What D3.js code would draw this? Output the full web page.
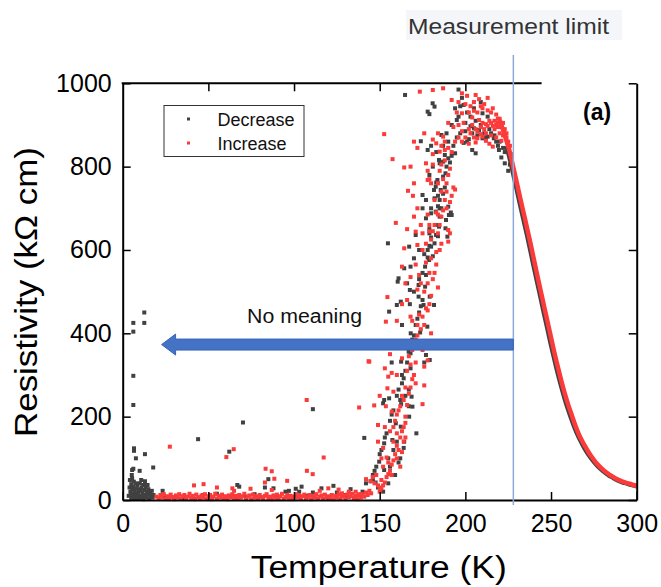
<!DOCTYPE html>
<html>
<head>
<meta charset="utf-8">
<script src="https://cdn.jsdelivr.net/npm/d3@7"></script>
<style>
  html, body { margin: 0; padding: 0; background: #fff; }
  svg { display: block; font-family: "Liberation Sans", Arial, sans-serif; }
</style>
</head>
<body>
<svg id="chart" width="661" height="587"></svg>
<script>
// axis ticks
const xTicks = [0, 50, 100, 150, 200, 250, 300];
const yTicks = [0, 200, 400, 600, 800, 1000];
const topTicks = [50, 100, 150, 200];

// measurement limit (K) and where the top frame line stops (K)
const limitT = 228;
const topBorderEnd = 244.5;
// arrow level (kOhm cm) and its tip (K)
const arrowR = 373;
const arrowTipT = 22.7;

// dense, smooth part of each run (T in K, resistivity in kOhm cm)
const increaseCurve = [
  [220, 912], [222, 888], [224, 862], [226, 834], [228, 798], [230, 762], [232, 725],
  [234, 689], [236, 653], [238, 616], [240, 577], [242, 539], [244, 501], [246, 464],
  [248, 427], [250, 390], [252, 353], [254, 319], [256, 286], [258, 256], [260, 229],
  [262, 205], [264, 181], [266, 160], [268, 143], [270, 128], [272, 114], [274, 102],
  [276, 91], [278, 82], [280, 74], [282, 67], [284, 61], [286, 56], [288, 51],
  [290, 47], [292, 44], [294, 41], [296, 39], [298, 36], [300, 34]
];
const decreaseCurve = [
  [224, 850], [226, 818], [228, 782], [230, 745], [232, 708], [234, 672], [236, 636],
  [238, 598], [240, 559], [242, 521], [244, 484], [246, 446], [248, 409], [250, 372],
  [252, 337], [254, 303], [256, 272], [258, 243], [260, 217], [262, 193], [264, 171],
  [266, 152], [268, 136], [270, 121], [272, 108], [274, 97], [276, 87], [278, 78],
  [280, 71], [282, 64], [284, 58], [286, 54], [288, 49], [290, 45], [292, 42],
  [294, 40], [296, 37], [298, 35], [300, 33]
];

// scattered points of the "Decrease" run
const decreaseScatter = [
  [3.5, 10], [4, 30], [4.2, 48], [4.5, 20], [5, 5], [5, 38], [5.3, 60], [5.5, 25], [5.5, 52],
  [6, 12], [6, 33], [6.5, 8], [6.5, 44], [7, 20], [7, 3], [7.5, 28], [8, 14], [8, 6], [8.5, 35],
  [9, 18], [9, 4], [9.5, 26], [10, 10], [10, 40], [10.5, 22], [11, 5], [11, 30], [11.5, 15],
  [12, 36], [12, 8], [12.5, 24], [13, 12], [13, 45], [13.5, 30], [14, 6], [14, 20], [14.5, 36],
  [15, 14], [15, 26], [15.5, 4], [16, 18], [16.5, 10], [17, 22], [17.5, 6], [18, 12],
  [4.8, 15], [7.8, 40], [10.8, 48], [12.2, 2],
  [6.2, 228], [6.6, 124], [6.6, 118], [7.7, 100], [13, 110], [5.5, 72], [6.2, 75], [9.9, 70],
  [17.8, 78], [14, 36], [23.3, 22], [6.2, 298], [6.2, 425], [6.2, 404], [12.6, 450], [12.6, 425],
  [44, 146], [62.2, 116], [70.2, 186], [111, 218], [141, 149],
  [24, 10], [30, 6], [36, 4], [42, 3], [47, 12], [52, 2], [55, 15], [60, 4], [66.9, 36], [68, 32],
  [72, 8], [77, 14], [83, 30], [85, 50], [88, 28], [90, 6], [95, 20], [97, 22], [101, 27],
  [103, 20], [104.4, 32], [108, 10], [111, 18], [116, 28], [120, 5], [123, 34], [125, 18],
  [128, 10], [130, 12], [133, 26], [136, 8], [140, 20], [142, 40], [144.7, 45], [146, 50], [147.6, 42],
  [152.6, 72], [149.7, 92], [152.6, 136], [157.4, 144], [159.4, 184], [162.3, 176], [164.3, 140],
  [162, 100], [161, 90], [171.4, 160], [167.2, 200], [169.1, 224], [162, 240], [162.5, 230],
  [152.6, 240], [155.5, 244], [152, 232], [168.6, 248], [167, 265], [163, 280], [164, 292],
  [168, 316], [162.5, 332], [168, 352], [179.2, 336], [176, 330], [177, 348], [166.9, 356],
  [173.6, 402], [168.1, 400], [177.8, 416], [155.5, 452], [160, 468], [162.3, 476], [167.6, 470],
  [175.6, 468], [181.7, 468], [172.7, 488], [179.2, 488], [167.6, 504], [176.5, 512], [160.5, 524],
  [161, 532], [172.7, 516], [177, 540], [176.5, 560], [164.3, 556], [178.8, 576], [178, 582],
  [181, 585], [178, 600], [167.2, 608], [180, 608], [182, 616], [154.8, 616], [179, 640], [184, 633],
  [171, 636], [184.6, 656], [189.5, 632], [188.4, 652], [175, 732], [182, 724], [185, 720],
  [182.7, 692], [180, 700], [190.4, 684], [190, 704], [182.7, 752], [185.6, 744], [183.7, 768],
  [187, 776], [188.4, 784], [185, 808], [187, 812], [188, 828], [190, 820], [192, 826], [194, 832],
  [164.8, 972], [180.9, 952], [182, 944], [178, 932], [179, 926], [174, 861], [186, 876], [189, 880],
  [195, 912], [196, 920], [197, 945], [199, 948], [199, 857], [201, 860], [202, 866], [200, 905],
  [203, 897], [205, 892], [208, 888], [211, 880], [213, 872], [210, 928], [213, 920], [216.6, 868],
  [218, 860], [219, 850], [219.6, 840], [221, 822], [223, 808], [225, 790], [184.6, 816], [181, 800],
  [179, 780], [183, 762], [181.7, 744], [184, 730], [185, 700], [191.5, 690], [180, 688], [177, 676],
  [179, 650], [182.9, 636], [192, 684], [188.7, 672], [196, 985], [204, 840], [206, 832],
  [146, 60], [147, 70], [148, 80], [150, 110], [151, 120], [153, 150], [154, 160], [156, 190],
  [157, 205], [158, 215], [160, 250], [161, 265], [163, 300], [165, 310], [166, 330], [168, 370],
  [169, 385], [170, 395], [171, 420], [172, 435], [173, 450], [174, 465], [175, 480], [170, 500],
  [173, 530], [175, 545], [176, 590], [179, 610], [180, 630], [183, 660], [185, 680], [186, 700],
  [184, 705], [187, 735], [188, 750], [189, 800], [191, 810], [193, 850], [195, 870], [197, 880],
  [200, 885], [204, 880], [207, 875], [210, 868], [212, 870], [215, 880], [217, 875], [220, 860],
  [222, 845], [223, 835], [226, 805], [214, 890], [209, 900], [206, 910], [203, 920], [201, 930],
  [205, 940], [209, 955], [198, 965], [194, 940], [192, 900], [190, 860], [187, 850], [183, 835],
  [180, 850], [178, 840], [177, 720], [175, 700], [173, 600], [170, 580], [168, 560], [166, 520],
  [163, 420], [160, 380], [157, 330], [165, 250], [167, 225], [160, 140], [158, 120], [155, 100],
  [164, 125], [156, 80], [159, 60], [149, 30], [152, 20], [155, 40]
];

// scattered points of the "Increase" run
const increaseScatter = [
  [19.7, 8], [21, 4], [22, 12], [23, 6], [24, 14], [25, 3], [26, 9], [27, 5], [28, 13], [29, 7],
  [30, 2], [31, 11], [32, 6], [33, 14], [34, 4], [35, 9], [36, 12], [37, 3], [38, 8], [39, 15],
  [40, 5], [41, 10], [42, 2], [43, 13], [44, 7], [45, 4], [46, 11], [47, 6], [48, 14], [49, 3],
  [50, 9], [51, 12], [52, 5], [53, 8], [54, 15], [55, 3], [56, 10], [57, 6], [58, 13], [59, 4],
  [60, 9], [61, 2], [62, 11], [63, 7], [64, 14], [65, 5], [66, 10], [67, 3], [68, 12], [69, 6],
  [70, 9], [71, 15], [72, 4], [73, 8], [74, 11], [75, 2], [76, 13], [77, 6], [78, 9], [79, 4],
  [80, 12], [81, 7], [82, 3], [83, 10], [84, 14], [85, 5], [86, 8], [87, 2], [88, 11], [89, 6],
  [90, 13], [91, 4], [92, 9], [93, 15], [94, 3], [95, 7], [96, 12], [97, 5], [98, 10], [99, 2],
  [100, 8], [101, 14], [102, 6], [103, 11], [104, 3], [105, 9], [106, 13], [107, 5], [108, 7],
  [109, 12], [110, 2], [111, 10], [112, 6], [113, 14], [114, 4], [115, 8], [116, 11], [117, 3],
  [118, 13], [119, 7], [120, 9], [121, 5], [122, 12], [123, 2], [124, 10], [125, 6], [126, 14],
  [127, 4], [128, 8], [129, 11], [130, 3], [131, 13], [132, 7], [133, 9], [134, 15], [135, 5],
  [136, 10], [137, 2], [138, 12], [139, 6], [140, 14], [141, 8], [142, 18], [143, 12], [144, 22], [145, 16],
  [27.5, 128], [41.6, 35], [47.2, 38], [55, 30], [60.5, 103], [64.8, 122], [64, 28], [65, 22],
  [74.6, 27], [83.4, 75], [87, 69], [88.5, 51], [83, 42], [87, 24], [96, 46], [107.4, 240],
  [117.3, 102], [107.5, 70], [110.9, 62], [138, 222], [146.8, 227], [143.5, 333], [115, 22],
  [120, 28], [126, 25], [132, 20],
  [142, 50], [144.7, 45], [147, 40], [149, 35], [150, 30], [146, 55], [148, 60], [151, 48],
  [128, 16], [132, 18], [138, 14], [136, 20], [152, 80], [155, 90], [157, 85], [162, 80],
  [158, 140], [160, 130], [163, 115], [164, 140], [149, 140], [152, 125], [151, 100], [154, 102],
  [149, 180], [153, 175], [156, 165], [160, 160], [165, 150], [153.6, 225], [157, 212], [160, 205],
  [165, 200], [154.5, 268], [153, 316], [155, 296], [163, 340], [168, 325], [171, 330], [176, 320],
  [178, 335], [165, 270], [171, 280], [176, 275], [175, 230], [143.9, 332], [153.6, 428],
  [154.5, 487], [157, 305], [168, 440], [169, 430], [172, 420], [174, 410], [180, 400], [173, 445],
  [177, 460], [166, 480], [171, 565], [173, 540], [168, 535], [177, 570], [179, 545], [183, 565],
  [184, 510], [171, 644], [172, 612], [179, 660], [181, 645], [184, 640], [185, 600], [186, 615],
  [190, 620], [164.3, 604], [159.4, 665], [166.5, 742], [169.4, 730], [164.3, 798], [157.5, 818],
  [152.6, 878], [177, 808], [178, 790], [179, 770], [180, 760], [181, 805], [178, 768], [182, 720],
  [184, 685], [183, 690], [178, 685], [179, 645], [185, 660], [191, 640], [190, 648], [189, 700],
  [191, 715], [192, 730], [185, 790], [187, 770], [189, 760], [193, 750], [194, 745],
  [173.4, 980], [181, 984], [187, 988], [198, 976], [201, 970], [206, 972], [208, 962], [213, 965],
  [195, 930], [198, 928], [202, 930], [205, 934], [207, 930], [199, 905], [202, 890], [204, 900],
  [207, 885], [209, 895], [210, 905], [212, 880], [198, 860], [202, 855], [206, 858], [207, 868],
  [210, 872], [212, 862], [214, 855], [216, 848], [184, 880], [187, 872], [188, 860], [186, 850],
  [183, 856], [181, 865], [181, 830], [185, 836], [188, 840], [192, 835], [210, 940], [215, 930],
  [218, 925], [214, 910], [216, 898], [219, 905], [217, 890], [200, 950], [203, 945], [211, 950],
  [204, 918], [208, 912], [212, 902], [215, 875], [218, 870], [220, 880], [221, 862],
  [150, 20], [151, 28], [152, 35], [153, 42], [154, 55], [155, 62], [156, 70], [157, 60],
  [158, 95], [159, 110], [160, 100], [161, 120], [162, 150], [163, 165], [164, 175], [165, 185],
  [158, 175], [159, 190], [161, 215], [162, 225], [163, 250], [164, 240], [166, 228], [167, 255],
  [168, 270], [169, 290], [170, 300], [166, 310], [167, 345], [169, 360], [170, 372], [171, 385],
  [172, 395], [174, 380], [175, 360], [176, 420], [175, 440], [178, 455], [179, 470], [180, 490],
  [176, 500], [174, 520], [172, 505], [178, 520], [181, 530], [182, 545], [180, 580], [183, 595],
  [175, 600], [177, 615], [180, 625], [182, 660], [186, 680], [187, 695], [188, 720], [189, 740],
  [186, 740], [184, 760], [190, 780], [191, 795], [186, 805], [188, 815], [190, 845], [194, 860],
  [196, 870], [198, 885], [200, 870], [203, 880], [205, 870], [206, 890], [209, 878], [211, 890],
  [213, 898], [215, 905], [217, 910], [218, 900], [219, 895], [220, 915], [221, 895], [222, 905],
  [223, 890], [222, 875], [224, 880], [224, 870], [225, 860], [226, 850], [227, 830], [213, 935],
  [216, 940], [219, 915], [205, 955], [209, 945], [196, 955], [192, 960], [190, 905], [193, 895],
  [196, 900], [170, 860], [172, 845], [176, 880], [168, 800], [170, 760], [172, 700], [170, 680],
  [174, 660], [175, 640], [166, 650], [163, 560], [165, 520], [163, 470], [160, 430], [158, 380],
  [156, 350], [160, 300], [158, 260], [150, 250]
];

const colors = { decrease: '#414141', increase: '#fb3a3a' };

const svg = d3.select('#chart');
const W = 661;
const H = 587;
const plotLeft = 122.7, plotRight = 636.7, plotTop = 83.3, plotBottom = 500;

svg.append('rect').attr('width', W).attr('height', H).attr('fill', '#fff');

const x = d3.scaleLinear().domain([0, 300]).range([plotLeft, plotRight]);
const y = d3.scaleLinear().domain([0, 1000]).range([plotBottom, plotTop]);

// "Measurement limit" label box
svg.append('rect')
  .attr('x', 406).attr('y', 10).attr('width', 216).attr('height', 30)
  .attr('fill', '#f4f6f9');
svg.append('text')
  .attr('x', 408).attr('y', 34)
  .attr('font-size', 22).attr('fill', '#333')
  .attr('textLength', 201).attr('lengthAdjust', 'spacingAndGlyphs')
  .text('Measurement limit');

// points
function drawScatter(data, color) {
  svg.append('g')
    .selectAll('rect')
    .data(data)
    .enter()
    .append('rect')
    .attr('x', (d) => x(d[0]) - 2)
    .attr('y', (d) => y(d[1]) - 2)
    .attr('width', 4)
    .attr('height', 4)
    .attr('fill', color);
}

const line = d3.line().x((d) => x(d[0])).y((d) => y(d[1])).curve(d3.curveMonotoneX);

drawScatter(decreaseScatter, colors.decrease);
svg.append('path').datum(decreaseCurve)
  .attr('d', line).attr('fill', 'none')
  .attr('stroke', colors.decrease).attr('stroke-width', 4.5);
drawScatter(increaseScatter, colors.increase);
svg.append('path').datum(increaseCurve)
  .attr('d', line).attr('fill', 'none')
  .attr('stroke', colors.increase).attr('stroke-width', 4.5);

// frame and axes
const axisG = svg.append('g').attr('stroke-width', 2);

const xAxis = axisG.append('g')
  .attr('transform', `translate(0,${plotBottom})`)
  .call(d3.axisBottom(x).tickValues(xTicks).tickSizeInner(-8).tickSizeOuter(0).tickPadding(14));
const yAxis = axisG.append('g')
  .attr('transform', `translate(${plotLeft},0)`)
  .call(d3.axisLeft(y).tickValues(yTicks).tickFormat(d3.format('d'))
    .tickSizeInner(-8).tickSizeOuter(0).tickPadding(11));
axisG.append('g')
  .attr('transform', `translate(${plotRight},0)`)
  .call(d3.axisRight(y).tickValues(yTicks).tickSizeInner(-8).tickSizeOuter(0).tickFormat(''));
const topAxis = axisG.append('g')
  .attr('transform', `translate(0,${plotTop})`)
  .call(d3.axisTop(x).tickValues(topTicks).tickSizeInner(-8).tickSizeOuter(0).tickFormat(''));
topAxis.select('.domain').remove();
axisG.append('line')
  .attr('x1', x(0) - 1).attr('x2', x(topBorderEnd))
  .attr('y1', plotTop).attr('y2', plotTop)
  .attr('stroke', '#000').attr('stroke-width', 2);

axisG.selectAll('.domain').attr('stroke', '#000').attr('stroke-width', 2);
axisG.selectAll('.tick line').attr('stroke', '#000').attr('stroke-width', 1.5);
[xAxis, yAxis].forEach((g) => g.selectAll('text')
  .attr('font-size', 25)
  .attr('fill', '#000')
  .attr('font-family', '"Liberation Sans", Arial, sans-serif'));

// measurement limit line
svg.append('line')
  .attr('x1', x(limitT)).attr('x2', x(limitT))
  .attr('y1', 55).attr('y2', 505)
  .attr('stroke', '#8eaadb').attr('stroke-width', 1.5);

// "No meaning" arrow
const ay = y(arrowR);
const ax0 = x(limitT);
const ax1 = x(arrowTipT);
const arrowPath = d3.path();
arrowPath.moveTo(ax0, ay - 5.5);
arrowPath.lineTo(ax1 + 14, ay - 5.5);
arrowPath.lineTo(ax1 + 14, ay - 10.5);
arrowPath.lineTo(ax1, ay);
arrowPath.lineTo(ax1 + 14, ay + 10.5);
arrowPath.lineTo(ax1 + 14, ay + 5.5);
arrowPath.lineTo(ax0, ay + 5.5);
arrowPath.closePath();
svg.append('path')
  .attr('d', arrowPath.toString())
  .attr('fill', '#4472c4')
  .attr('stroke', '#3964b4')
  .attr('stroke-width', 1);

svg.append('text')
  .attr('x', 247).attr('y', 323)
  .attr('font-size', 20).attr('fill', '#111')
  .attr('textLength', 115).attr('lengthAdjust', 'spacingAndGlyphs')
  .text('No meaning');

// legend
const legend = svg.append('g');
legend.append('rect')
  .attr('x', 164).attr('y', 105.5).attr('width', 140).attr('height', 51)
  .attr('fill', '#fff').attr('stroke', '#333').attr('stroke-width', 1);
[['Decrease', colors.decrease, 119], ['Increase', colors.increase, 143]].forEach(([label, c, ly]) => {
  legend.append('rect')
    .attr('x', 187).attr('y', ly - 1.5).attr('width', 3).attr('height', 3)
    .attr('fill', c);
  legend.append('text')
    .attr('x', 217.5).attr('y', ly + 6.5)
    .attr('font-size', 18).attr('fill', '#111')
    .text(label);
});

// panel tag
svg.append('text')
  .attr('x', 583).attr('y', 120)
  .attr('font-size', 23).attr('font-weight', 'bold')
  .text('(a)');

// axis titles
svg.append('text')
  .attr('x', (plotLeft + plotRight) / 2 - 1).attr('y', 578)
  .attr('text-anchor', 'middle')
  .attr('font-size', 31)
  .attr('textLength', 256).attr('lengthAdjust', 'spacingAndGlyphs')
  .text('Temperature (K)');
svg.append('text')
  .attr('transform', 'translate(37,292) rotate(-90)')
  .attr('text-anchor', 'middle')
  .attr('font-size', 31)
  .attr('textLength', 290).attr('lengthAdjust', 'spacingAndGlyphs')
  .text('Resistivity (kΩ cm)');
</script>
</body>
</html>
